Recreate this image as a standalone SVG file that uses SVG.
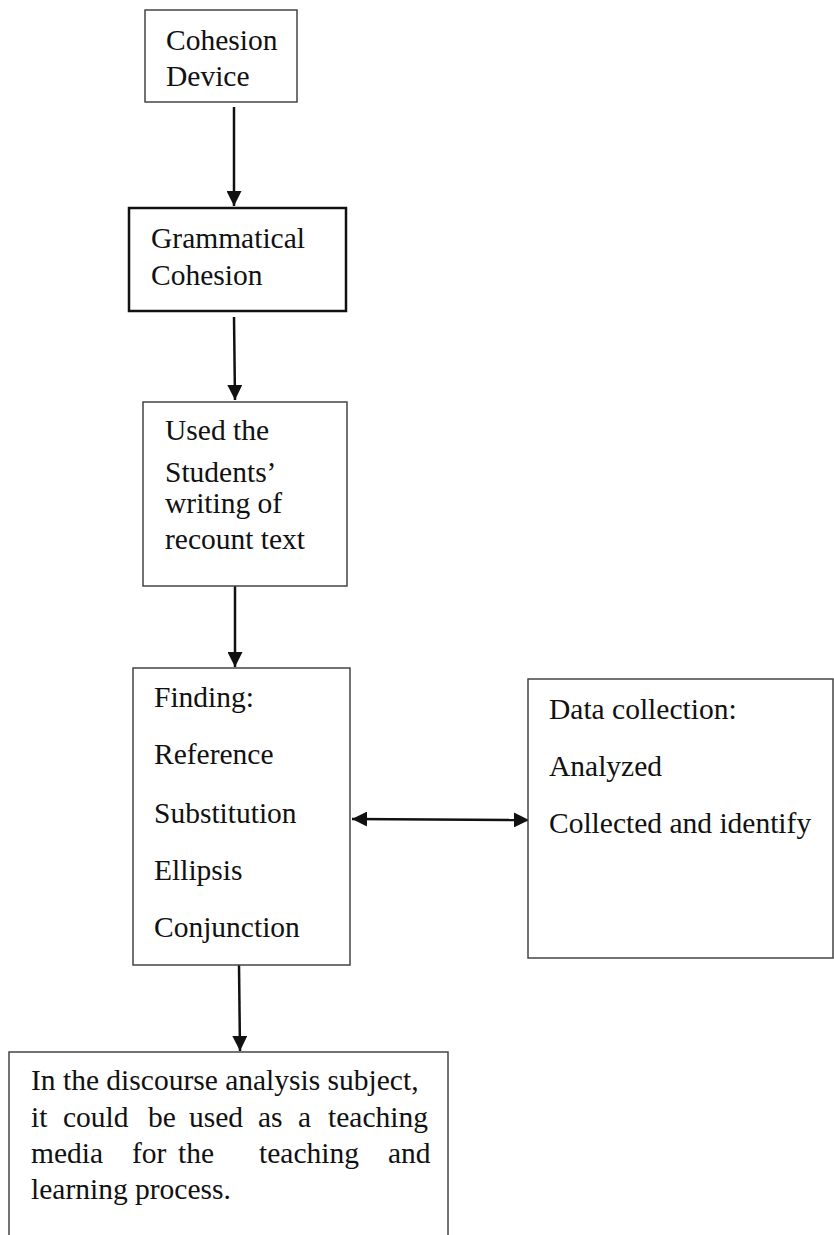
<svg xmlns="http://www.w3.org/2000/svg" width="834" height="1235" viewBox="0 0 834 1235">
<style>
.box{fill:#fff;stroke:#444;stroke-width:1.5}
.thick{fill:#fff;stroke:#111;stroke-width:2.5}
text{font-family:"Liberation Serif","Times New Roman",serif;font-size:29.5px;fill:#111}
.edge{stroke:#111;stroke-width:2.5;fill:none}
</style>
<defs>
<marker id="ah" viewBox="0 0 10 10" refX="10" refY="5" markerWidth="6" markerHeight="6" markerUnits="strokeWidth" orient="auto-start-reverse">
<path d="M0,0 L10,5 L0,10 z" fill="#111"/>
</marker>
</defs>
<rect width="834" height="1235" fill="#fff"/>
<g id="connectors">
<line class="edge" x1="234" y1="107" x2="234" y2="206" marker-end="url(#ah)"/>
<line class="edge" x1="234" y1="317" x2="235" y2="400" marker-end="url(#ah)"/>
<line class="edge" x1="235" y1="586" x2="235" y2="667" marker-end="url(#ah)"/>
<line class="edge" x1="352" y1="819" x2="529" y2="820" marker-start="url(#ah)" marker-end="url(#ah)"/>
<line class="edge" x1="239" y1="965" x2="240" y2="1051" marker-end="url(#ah)"/>
</g>
<g id="n1">
<rect class="box" x="145" y="10" width="152" height="92"/>
<text x="166" y="50">Cohesion</text>
<text x="166" y="86">Device</text>
</g>
<g id="n2">
<rect class="thick" x="129" y="208" width="217" height="103"/>
<text x="151" y="248">Grammatical</text>
<text x="151" y="285">Cohesion</text>
</g>
<g id="n3">
<rect class="box" x="143" y="402" width="204" height="184"/>
<text x="165" y="440">Used the</text>
<text x="165" y="482">Students’</text>
<text x="165" y="513">writing of</text>
<text x="165" y="549">recount text</text>
</g>
<g id="n4">
<rect class="box" x="133" y="668" width="217" height="297"/>
<text x="154" y="707">Finding:</text>
<text x="154" y="764">Reference</text>
<text x="154" y="823">Substitution</text>
<text x="154" y="880">Ellipsis</text>
<text x="154" y="937">Conjunction</text>
</g>
<g id="n5">
<rect class="box" x="528" y="679" width="305" height="279"/>
<text x="549" y="719">Data collection:</text>
<text x="549" y="776">Analyzed</text>
<text x="549" y="833">Collected and identify</text>
</g>
<g id="n6">
<rect class="box" x="9" y="1052" width="439" height="200"/>
<text x="31" y="1090">In the discourse analysis subject,</text>
<text y="1127"><tspan x="31">it</tspan><tspan x="63">could</tspan><tspan x="148">be</tspan><tspan x="189">used</tspan><tspan x="258">as</tspan><tspan x="298">a</tspan><tspan x="328">teaching</tspan></text>
<text y="1163"><tspan x="31">media</tspan><tspan x="132">for</tspan><tspan x="178">the</tspan><tspan x="259">teaching</tspan><tspan x="388">and</tspan></text>
<text x="31" y="1199">learning process.</text>
</g>
</svg>
